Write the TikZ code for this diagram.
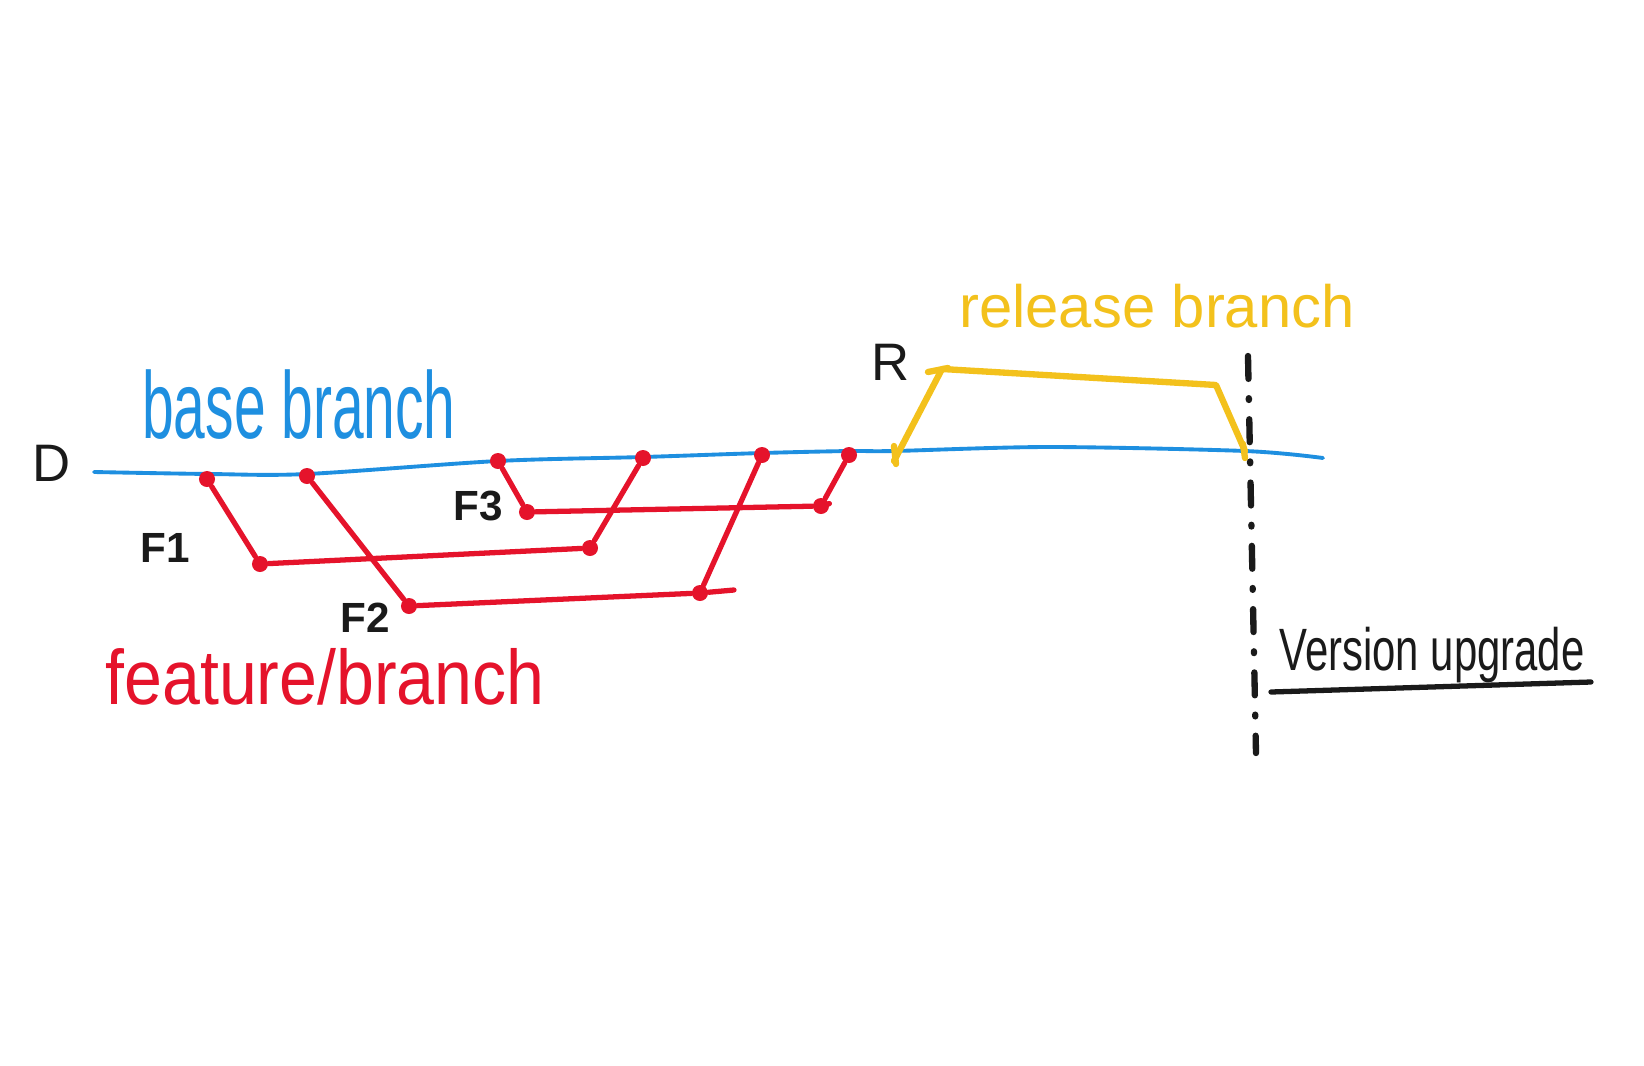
\documentclass[tikz,border=0pt]{standalone}
\usepackage{fontspec}
\usepackage{graphicx}
\setmainfont{Liberation Sans}
\definecolor{basec}{HTML}{1E8FE0}
\definecolor{featc}{HTML}{E5132B}
\definecolor{relc}{HTML}{F3C11C}
\definecolor{inkc}{HTML}{1A1A1A}
\begin{document}
\begin{tikzpicture}[x=0.01cm,y=-0.01cm,
  baseline/.style={draw=basec,line width=1.1pt,line cap=round},
  featline/.style={draw=featc,line width=1.5pt,line cap=round},
  relline/.style={draw=relc,line width=1.8pt,line cap=round,line join=round},
  cdot/.style={circle,fill=featc,inner sep=0pt,minimum size=0.16cm},
  lbl/.style={inner sep=0pt,text=inkc},
]
\fill[white] (0,0) rectangle (1644,1066);
\useasboundingbox (0,0) rectangle (1644,1066);

% base branch points
\coordinate (b0) at (94,472);
\coordinate (b1) at (210,474);
\coordinate (b2) at (307,474);
\coordinate (b3) at (498,461);
\coordinate (b4) at (643,457);
\coordinate (b5) at (762,453);
\coordinate (b6) at (849,451);
\coordinate (b7) at (894,451);
\coordinate (b8) at (1049,447);
\coordinate (b9) at (1245,451);
\coordinate (b10) at (1323,458);
\draw[baseline] plot[smooth,tension=0.5] coordinates {(b0) (b1) (b2) (b3) (b4) (b5) (b6) (b7) (b8) (b9) (b10)};

% feature commits
\node[cdot] (f1a) at (207,479) {};
\node[cdot] (f1b) at (260,564) {};
\node[cdot] (f1c) at (590,548) {};
\node[cdot] (f1d) at (643,458) {};
\node[cdot] (f2a) at (307,476) {};
\node[cdot] (f2b) at (409,606) {};
\node[cdot] (f2c) at (700,593) {};
\coordinate (f2e) at (734,590);
\node[cdot] (f2d) at (762,455) {};
\node[cdot] (f3a) at (498,461) {};
\node[cdot] (f3b) at (527,512) {};
\node[cdot] (f3c) at (821,506) {};
\coordinate (f3e) at (828,504);
\node[cdot] (f3d) at (849,455) {};

\draw[featline] (f1a) -- (f1b) -- (f1c) -- (f1d);
\draw[featline] (f2a) -- (f2b) -- (f2c) -- (f2e);
\draw[featline] (f2c) -- (f2d);
\draw[featline] (f3a) -- (f3b) -- (f3c) -- (f3e);
\draw[featline] (f3c) -- (f3d);

% release branch
\coordinate (r1) at (894,461);
\coordinate (r2) at (942,369);
\coordinate (r3) at (1216,385);
\coordinate (r4) at (1245,451);
\draw[relline] (r1) -- (r2) -- (r3) -- (r4);
\draw[relline] (894,446) -- (896,464);
\draw[relline] (928,372) -- (948,368);
\draw[relline] (1243,444) -- (1245,458);

% version line (dash-dot)
\coordinate (v1) at (1248,356);
\coordinate (v2) at (1256,753);
\draw[inkc,line width=1.8pt,line cap=round,dash pattern=on 6.5pt off 5.5pt on 0.5pt off 5.5pt] (v1) -- (v2);

% labels
\node[lbl,font=\fontsize{15}{15}\selectfont] (D) at (52,463) {D};
\node[lbl,font=\bfseries\fontsize{12}{12}\selectfont] (F1) at (165,548) {F1};
\node[lbl,font=\bfseries\fontsize{12}{12}\selectfont] (F2) at (365,618) {F2};
\node[lbl,font=\bfseries\fontsize{12}{12}\selectfont] (F3) at (478,506) {F3};
\node[lbl,font=\fontsize{15}{15}\selectfont] (R) at (891,362) {R};
\node[lbl,text=basec,font=\fontsize{27}{27}\selectfont] (basel) at (299,405) {\scalebox{0.6}[1]{base branch}};
\node[lbl,text=featc,font=\fontsize{22}{22}\selectfont] (featl) at (325,677) {\scalebox{0.88}[1]{feature/branch}};
\node[lbl,text=relc,font=\fontsize{17}{17}\selectfont] (rell) at (1157,306) {release branch};
\node[lbl,font=\fontsize{17}{17}\selectfont] (verl) at (1432,655) {\scalebox{0.7}[1]{Version upgrade}};
\coordinate (u1) at (1271,692);
\coordinate (u2) at (1591,682);
\draw[inkc,line width=1.5pt,line cap=round] (u1) -- (u2);
\end{tikzpicture}
\end{document}
